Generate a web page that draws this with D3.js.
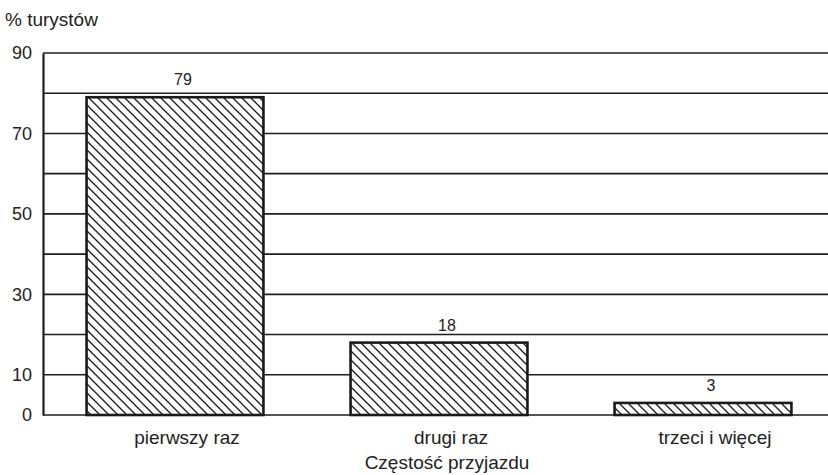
<!DOCTYPE html>
<html>
<head>
<meta charset="utf-8">
<script src="https://unpkg.com/d3@7/dist/d3.min.js"></script>
<style>
  body { margin: 0; background: #fff; }
  svg { display: block; font-family: "Liberation Sans", Arial, sans-serif; }
</style>
</head>
<body>
<div id="chart"></div>
<script>
const categories = ["pierwszy raz", "drugi raz", "trzeci i więcej"];
const values = [79, 18, 3];
const tickLabels = [0, 10, 30, 50, 70, 90];
const gridValues = [0, 10, 20, 30, 40, 50, 60, 70, 80, 90];

const W = 828, H = 475;
const axisX = 43;
const font = "Liberation Sans, Arial, sans-serif";

const svg = d3.select("#chart").append("svg")
  .attr("width", W)
  .attr("height", H);

// hatch pattern, white underneath so gridlines don't show through
const pat = svg.append("defs").append("pattern")
  .attr("id", "hatch")
  .attr("patternUnits", "userSpaceOnUse")
  .attr("width", 9)
  .attr("height", 9);
pat.append("rect").attr("width", 9).attr("height", 9).attr("fill", "#fff");
pat.append("path")
  .attr("d", "M-1,-1 L10,10 M6,-3 L12,3 M-3,6 L3,12")
  .attr("stroke", "#1a1a1a")
  .attr("stroke-width", 1.3);

const y = d3.scaleLinear().domain([0, 90]).range([415, 53]);
const x = d3.scaleBand()
  .domain(categories)
  .range([axisX, 835])
  .paddingInner(0.33)
  .paddingOuter(0.165);

// gridlines
svg.append("g")
  .selectAll("line")
  .data(gridValues)
  .join("line")
    .attr("x1", axisX)
    .attr("x2", W)
    .attr("y1", d => y(d))
    .attr("y2", d => y(d))
    .attr("stroke", "#1e1e1e")
    .attr("stroke-width", 1.6);

// y axis
const yAxis = svg.append("g")
  .attr("transform", `translate(${axisX},0)`)
  .call(d3.axisLeft(y).tickValues(tickLabels).tickSize(0).tickPadding(11));
yAxis.select(".domain").attr("stroke", "#1e1e1e").attr("stroke-width", 2.2);
yAxis.selectAll("text")
  .attr("font-size", 18)
  .attr("fill", "#222")
  .attr("font-family", font);

svg.append("text")
  .attr("x", 5)
  .attr("y", 26)
  .attr("font-size", 19)
  .attr("fill", "#222")
  .text("% turystów");

// bars
svg.append("g")
  .selectAll("rect")
  .data(values)
  .join("rect")
    .attr("x", (d, i) => x(categories[i]))
    .attr("y", d => y(d))
    .attr("width", x.bandwidth())
    .attr("height", d => y(0) - y(d))
    .attr("fill", "url(#hatch)")
    .attr("stroke", "#1a1a1a")
    .attr("stroke-width", 2.6);

// value labels (sit slightly right of bar centre, as in the original)
svg.append("g")
  .selectAll("text")
  .data(values)
  .join("text")
    .attr("x", (d, i) => x(categories[i]) + x.bandwidth() / 2 + 8)
    .attr("y", d => y(d) - 12)
    .attr("text-anchor", "middle")
    .attr("font-size", 16)
    .attr("fill", "#222")
    .text(d => d);

// category labels
svg.append("g")
  .selectAll("text")
  .data(categories)
  .join("text")
    .attr("x", d => x(d) + x.bandwidth() / 2 + 12)
    .attr("y", 444)
    .attr("text-anchor", "middle")
    .attr("font-size", 19)
    .attr("fill", "#222")
    .text(d => d);

svg.append("text")
  .attr("x", x(categories[1]) + x.bandwidth() / 2 + 8)
  .attr("y", 469)
  .attr("text-anchor", "middle")
  .attr("font-size", 19)
  .attr("fill", "#222")
  .text("Częstość przyjazdu");
</script>
</body>
</html>
